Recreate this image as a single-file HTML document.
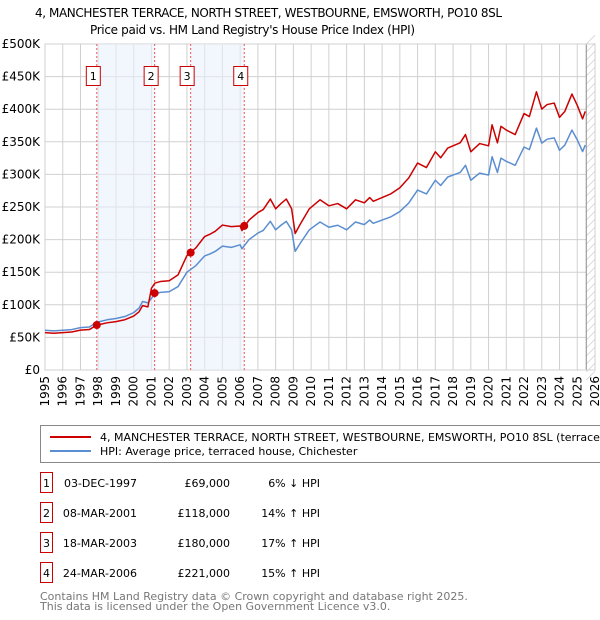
<!DOCTYPE html>
<html><head><meta charset="utf-8"><style>
body{margin:0;background:#fff;}
svg{display:block;font-family:"DejaVu Sans","Liberation Sans",sans-serif;}
</style></head><body>
<svg id="chart" width="600" height="620" xmlns="http://www.w3.org/2000/svg">
<text x="35" y="17" font-size="12" textLength="467">4, MANCHESTER TERRACE, NORTH STREET, WESTBOURNE, EMSWORTH, PO10 8SL</text>
<text x="90" y="34" font-size="12" textLength="325">Price paid vs. HM Land Registry's House Price Index (HPI)</text>
<g id="grid"></g>
<g id="bands"></g>
<g id="series"></g>
<g id="axes"></g>
<g id="legend">
<rect x="40.5" y="425.5" width="580" height="37" fill="#fff" stroke="#888"/>
<line x1="50" y1="437" x2="91" y2="437" stroke="#cc0000" stroke-width="2"/>
<text x="100" y="441" font-size="11">4, MANCHESTER TERRACE, NORTH STREET, WESTBOURNE, EMSWORTH, PO10 8SL (terraced house)</text>
<line x1="50" y1="451" x2="91" y2="451" stroke="#5b8ed0" stroke-width="2"/>
<text x="100" y="455" font-size="11">HPI: Average price, terraced house, Chichester</text>
</g>
<g id="table"></g>
<text x="40" y="600" font-size="11" fill="#777">Contains HM Land Registry data © Crown copyright and database right 2025.</text>
<text x="40" y="610" font-size="11" fill="#777">This data is licensed under the Open Government Licence v3.0.</text>
</svg>
<script>
const hpiTimes=[1995.0,1995.5,1996.0,1996.5,1997.0,1997.5,1997.9,1998.5,1999.0,1999.5,2000.0,2000.3,2000.5,2000.8,2001.0,2001.2,2001.5,2002.0,2002.5,2003.0,2003.5,2004.0,2004.3,2004.6,2005.0,2005.5,2006.0,2006.1,2006.5,2007.0,2007.3,2007.7,2008.0,2008.3,2008.6,2008.9,2009.1,2009.4,2009.9,2010.5,2011.0,2011.5,2012.0,2012.5,2013.0,2013.3,2013.5,2014.0,2014.5,2015.0,2015.5,2016.0,2016.5,2017.0,2017.3,2017.7,2018.0,2018.4,2018.7,2019.0,2019.5,2020.0,2020.2,2020.5,2020.7,2021.0,2021.5,2022.0,2022.3,2022.7,2023.0,2023.3,2023.7,2024.0,2024.3,2024.7,2025.0,2025.3,2025.45];
const hpiValues=[61,60,61,62,65,66,73,77,79,82,88,95,105,103,110,117,119,120,128,150,160,175,178,182,190,188,192,186,200,210,214,228,215,222,228,215,182,195,215,227,219,222,215,227,223,230,225,230,235,243,256,276,270,291,283,296,299,303,314,291,302,299,327,303,325,320,314,342,338,371,348,354,356,337,345,368,353,335,345];
const saleLabels=["1","2","3","4"];
const saleDates=["03-DEC-1997","08-MAR-2001","18-MAR-2003","24-MAR-2006"];
const saleTimes=[1997.92,2001.18,2003.21,2006.23];
const salePrices=[69000,118000,180000,221000];
const salePctVsHpi=[-6,14,17,15];
const saleHpiText=["6% \u2193 HPI","14% \u2191 HPI","17% \u2191 HPI","15% \u2191 HPI"];
const yTicks=[0,50,100,150,200,250,300,350,400,450,500];
const yTickLabels=["£0","£50K","£100K","£150K","£200K","£250K","£300K","£350K","£400K","£450K","£500K"];
const xYears=[];for(let y=1995;y<=2026;y++)xYears.push(y);

const NS="http://www.w3.org/2000/svg";
const L=45,R=595,T=44,B=370;
const X=t=>L+(t-1995)*(R-L)/31;
const Y=v=>B-v*(B-T)/500;
function mk(tag,attrs,parent){const e=document.createElementNS(NS,tag);for(const k in attrs)e.setAttribute(k,attrs[k]);parent.appendChild(e);return e;}
const grid=document.getElementById('grid'),bands=document.getElementById('bands'),series=document.getElementById('series'),axes=document.getElementById('axes'),table=document.getElementById('table');

yTicks.forEach((v,i)=>{
 const l=mk('line',{x1:L,x2:R,y1:Y(v),y2:Y(v),stroke:'#d0d0d0'},grid);
 
 
 const t=mk('text',{x:40,y:Y(v)+4,'font-size':12,'text-anchor':'end'},axes);
 t.textContent=yTickLabels[i];
 
 
});
xYears.forEach(y=>{
 const l=mk('line',{x1:X(y),x2:X(y),y1:T,y2:B,stroke:'#d0d0d0'},grid);
 
 
 const t=mk('text',{x:0,y:0,'font-size':12,'text-anchor':'end',transform:`translate(${X(y)+4},${B+6}) rotate(-90)`},axes);
 t.textContent=y;
 
 
});
const endX=X(hpiTimes[hpiTimes.length-1])+1;
const hat=mk('g',{},grid);


mk('rect',{x:endX,y:T,width:R-endX,height:B-T,fill:'#fff'},hat);
for(let y=T;y<B+12;y+=8){mk('line',{x1:endX,y1:y,x2:R,y2:y-(R-endX),stroke:'#ccc','stroke-width':0.7},hat);}
mk('line',{x1:endX,x2:endX,y1:T,y2:B,stroke:'#888'},hat);
mk('rect',{x:L,y:T,width:R-L,height:B-T,fill:'none',stroke:'#d0d0d0'},grid);

for(let i=0;i+1<saleTimes.length;i+=2){
 const b=mk('rect',{x:X(saleTimes[i]),y:T,width:X(saleTimes[i+1])-X(saleTimes[i]),height:B-T,fill:'#eaf0fb',opacity:0.6},bands);
 
 
}
saleTimes.forEach((t,i)=>{
 const l=mk('line',{x1:X(t),x2:X(t),y1:T,y2:B,stroke:'#ee5555','stroke-dasharray':'2,2'},bands);
 
 
 const r=mk('rect',{x:X(t)-10.5,y:66.5,width:14,height:19,fill:'#fff',stroke:'#cc0000'},bands);
 
 
 const tx=mk('text',{x:X(t)-3.5,y:80,'font-size':11,'text-anchor':'middle'},bands);
 tx.textContent=saleLabels[i];
 
 
});

function ratioAt(t){let k=0;for(let j=0;j<saleTimes.length;j++)if(t>=saleTimes[j]-0.25)k=j;return 1+salePctVsHpi[k]/100;}
const pts=hpiTimes.map((t,i)=>[t,hpiValues[i]*ratioAt(t)]);
const hp=mk('polyline',{points:hpiTimes.map((t,i)=>X(t)+','+Y(hpiValues[i])).join(' '),fill:'none',stroke:'#5b8ed0','stroke-width':1.5,'stroke-linejoin':'round'},series);


const pp=mk('polyline',{points:pts.map(p=>X(p[0])+','+Y(p[1])).join(' '),fill:'none',stroke:'#cc0000','stroke-width':1.5,'stroke-linejoin':'round'},series);


saleTimes.forEach((t,i)=>{
 const c=mk('circle',{cx:X(t),cy:Y(salePrices[i]/1000),r:4,fill:'#cc0000'},series);
 
 
});

saleLabels.forEach((s,i)=>{
 const y=483+i*30;
 const r=mk('rect',{x:40.5,y:y-10.5,width:12,height:20,fill:'#fff',stroke:'#cc0000'},table);
 
 
 const cells=[[46.5,'middle',s,'table-sale-number'],[137,'end',saleDates[i],'table-sale-date'],[230,'end','£'+salePrices[i].toLocaleString('en-GB'),'table-sale-price'],[320,'end',saleHpiText[i],'table-sale-hpi-diff']];
 cells.forEach(c=>{
  const t=mk('text',{x:c[0],y:y+4,'font-size':11,'text-anchor':c[1]},table);
  t.textContent=c[2];
  
  
 });
});
</script>
</body></html>
